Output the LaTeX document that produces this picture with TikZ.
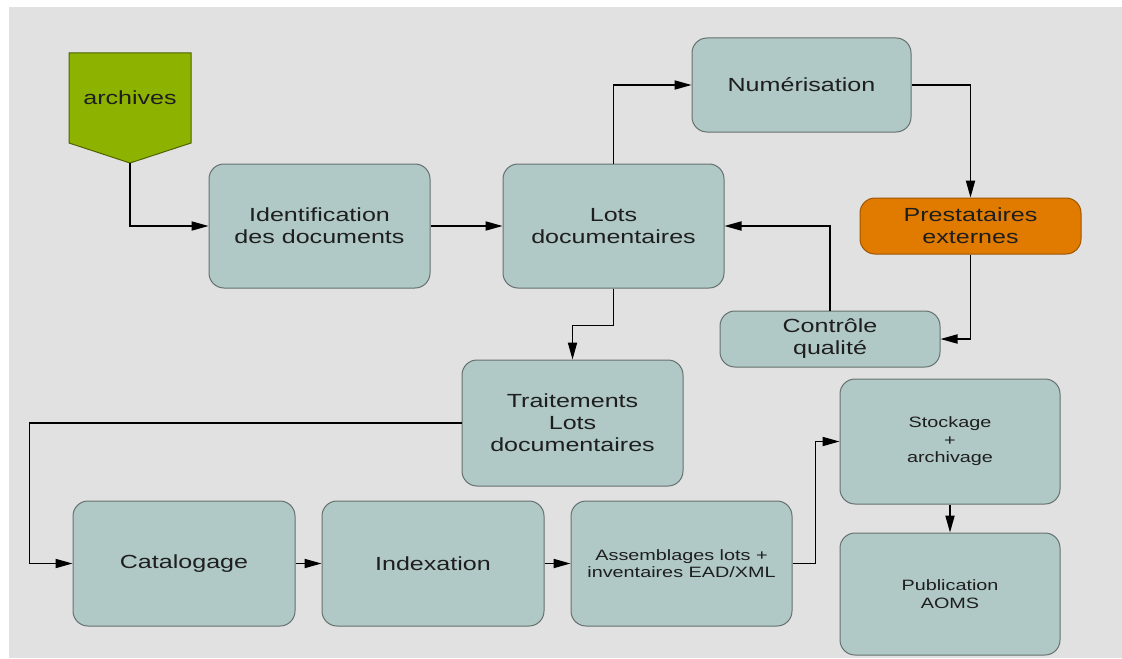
\documentclass[tikz,border=0pt]{standalone}
\usepackage{fontspec}
\setmainfont{Liberation Sans}
\newfontfamily\widefont[FakeStretch=1.32]{Liberation Sans}
\usetikzlibrary{arrows.meta}
\definecolor{bg}{HTML}{E1E1E1}
\definecolor{boxfill}{HTML}{B0C9C6}
\definecolor{boxedge}{HTML}{66706E}
\definecolor{orangefill}{HTML}{E07B00}
\definecolor{greenfill}{HTML}{8DB300}
\definecolor{txt}{HTML}{1E1E1E}
\begin{document}
\begin{tikzpicture}[x=0.5pt,y=-0.5pt,
  box/.style={draw=boxedge, line width=0.5pt, fill=boxfill, rounded corners=7.5pt,
    align=center, text=txt, inner sep=0pt,
    font=\widefont\fontsize{9.5}{11}\selectfont},
  smalltext/.style={font=\widefont\fontsize{7.5}{8.8}\selectfont},
  arr/.style={-{Triangle[length=8.5pt,width=4.6pt]}, line width=0.6pt, draw=black}]
\useasboundingbox (0,0) rectangle (1122,658);
\fill[white] (0,0) rectangle (1122,658);
\fill[bg] (9,7) rectangle (1122,658);

% archives (down-pointing pentagon)
\draw[draw=greenfill!55!black, fill=greenfill, line width=0.5pt]
  (69,53) -- (191,53) -- (191,143) -- (130,163) -- (69,143) -- cycle;
\node[text=txt, font=\widefont\fontsize{9.5}{11}\selectfont] (archives) at (130,98) {archives};
\coordinate (archtip) at (130,163);

% boxes
\node[box, minimum width=110.5pt, minimum height=62pt] (ident) at (319.5,226) {Identification\\des documents};
\node[box, minimum width=110.5pt, minimum height=62pt] (lots) at (613.5,226) {Lots\\documentaires};
\node[box, minimum width=109.5pt, minimum height=47pt] (num) at (801.5,85) {Numérisation};
\node[box, fill=orangefill, draw=orangefill!70!black, minimum width=110.5pt, minimum height=28pt] (prest) at (970.5,226) {Prestataires\\externes};
\node[box, minimum width=110pt, minimum height=28pt] (ctrl) at (830,339) {Contrôle\\qualité};
\node[box, minimum width=110.5pt, minimum height=63pt] (trait) at (572.5,423) {Traitements\\Lots\\documentaires};
\node[box, minimum width=111pt, minimum height=62.5pt] (catal) at (184,563.5) {Catalogage};
\node[box, minimum width=111pt, minimum height=62.5pt] (index) at (433,563.5) {Indexation};
\node[box, smalltext, minimum width=110.5pt, minimum height=62.5pt] (assem) at (681.5,563.5) {Assemblages lots +\\inventaires EAD/XML};
\node[box, smalltext, minimum width=110pt, minimum height=62.5pt] (stock) at (950,441.5) {Stockage\\+\\archivage};
\node[box, smalltext, minimum width=110pt, minimum height=61pt] (pub) at (950,594) {Publication\\AOMS};

% connectors
\draw[arr] (archtip) |- (ident.west);
\draw[arr] (ident.east) -- (lots.west);
\draw[arr] (lots.north) |- (num.west);
\draw[arr] (num.east) -| (prest.north);
\draw[arr] (prest.south) |- (ctrl.east);
\draw[arr] (ctrl.north) |- (lots.east);
\draw[arr] (lots.south) -- ++(0,37) -| (trait.north);
\draw[arr] (trait.west) -- ++(-432,0) |- (catal.west);
\draw[arr] (catal.east) -- (index.west);
\draw[arr] (index.east) -- (assem.west);
\draw[arr] (assem.east) -- ++(23,0) |- (stock.west);
\draw[arr] (stock.south) -- (pub.north);
\end{tikzpicture}
\end{document}
